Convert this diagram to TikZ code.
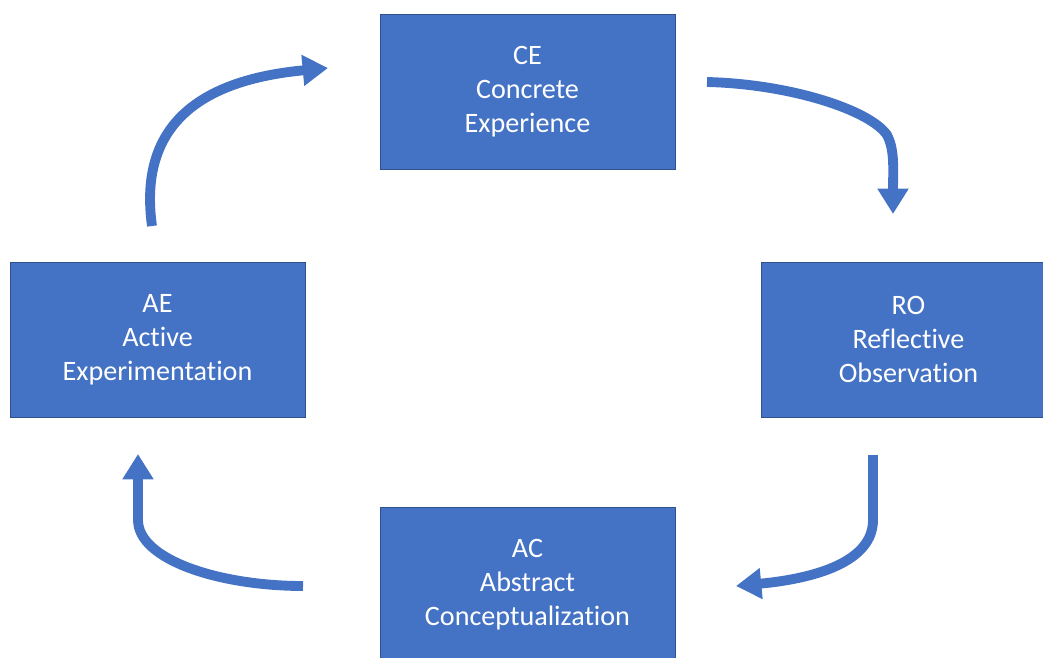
\documentclass[tikz,border=0pt]{standalone}
\usepackage{fontspec}
\setmainfont{Carlito}[Ligatures=NoCommon]
\usetikzlibrary{arrows.meta}

\begin{document}
\begin{tikzpicture}[x=0.025cm,y=-0.025cm]
	\definecolor{boxblue}{RGB}{68,114,196}
	\definecolor{edgeblue}{RGB}{47,82,143}
	\tikzstyle{stage}=[draw=edgeblue, line width=0.6pt, fill=boxblue, text=white, inner sep=0pt, outer sep=0pt, minimum width=7.375cm, minimum height=3.875cm, align=center, font=\fontsize{20}{24.2}\selectfont]
	\tikzstyle{cycle}=[draw=boxblue, line width=7pt, -{Triangle[length=18pt,width=21pt]}]
	%% page frame
	\useasboundingbox (0,0) rectangle (1043,657);
	
	\node [stage] (ce) at (527.5,92.0) {CE\\Concrete\\Experience};
	\node [stage] (ro) at (908.5,339.5) {RO\\Reflective\\Observation};
	\node [stage] (ac) at (527.5,584.5) {AC\\Abstract\\Conceptualization};
	\node [stage] (ae) at (157.5,339.5) {AE\\Active\\Experimentation};
	
	%% free arrow ends
	\coordinate (ae-out) at (152,226);
	\coordinate (ce-in) at (328,68);
	\coordinate (ce-out) at (707,82);
	\coordinate (ro-in) at (893,214);
	\coordinate (ro-out) at (873,455);
	\coordinate (ac-in) at (736,586);
	\coordinate (ac-out) at (303,586);
	\coordinate (ae-in) at (138,454);
	
	\draw [cycle] (ae-out) .. controls (138,125) and (200,80) .. (ce-in);
	\draw [cycle] (ce-out) .. controls (790,84) and (870,110) .. (887,135) .. controls (895,150) and (893,170) .. (ro-in);
	\draw [cycle] (ro-out) -- (873,520) .. controls (873,560) and (820,578) .. (ac-in);
	\draw [cycle] (ac-out) .. controls (220,586) and (138,560) .. (138,520) -- (ae-in);

\end{tikzpicture}
\end{document}
